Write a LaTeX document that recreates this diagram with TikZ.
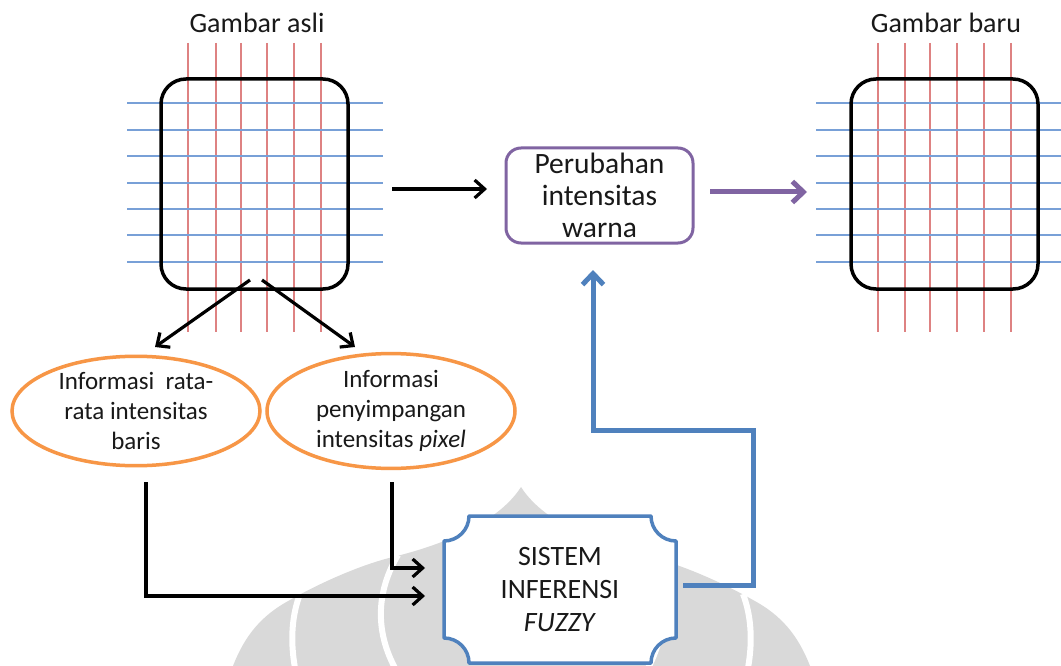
\documentclass[tikz,border=0pt]{standalone}
\usepackage{fontspec}
\setmainfont{Carlito}
\usetikzlibrary{arrows.meta,shapes.geometric}
\definecolor{gridred}{RGB}{222,130,130}
\definecolor{gridblue}{RGB}{120,160,215}
\definecolor{opurple}{RGB}{128,100,162}
\definecolor{oblue}{RGB}{79,129,189}
\definecolor{oorange}{RGB}{247,150,70}
\definecolor{wmgrey}{RGB}{217,217,217}
\definecolor{txt}{RGB}{25,25,25}
\tikzset{
  redline/.style={gridred, line width=1.3pt},
  blueline/.style={gridblue, line width=1.6pt},
  imgbox/.style={draw=black, line width=3.5pt, rounded corners=25pt, minimum width=187pt, minimum height=210pt, inner sep=0pt},
  title/.style={text=txt, font=\fontsize{28}{33}\selectfont},
  procbox/.style={draw=opurple, line width=3pt, rounded corners=15pt, fill=white, minimum width=187pt, minimum height=95pt, align=center, text=txt, font=\fontsize{29.5}{32}\selectfont, inner sep=0pt},
  infoell/.style={draw=oorange, line width=3.5pt, ellipse, fill=white, minimum width=248pt, minimum height=105pt, inner sep=0pt, align=center, text=txt, font=\fontsize{25}{30}\selectfont},
  sysnode/.style={minimum width=232pt, minimum height=147pt, inner sep=0pt, align=center, text=txt, font=\fontsize{28}{33}\selectfont},
  blackarr/.style={draw=black, line width=3.2pt, -{Straight Barb[length=10pt,width=18pt]}},
  purplearr/.style={draw=opurple, line width=5pt, -{Straight Barb[length=11pt,width=21pt]}},
  bluearr/.style={draw=oblue, line width=5pt, -{Straight Barb[length=11pt,width=21pt]}},
  wmband/.style={white, line width=6pt}
}
\begin{document}
\begin{tikzpicture}[x=1pt, y=-1pt]
\useasboundingbox (0,0) rectangle (1061,666);
\fill[white] (0,0) rectangle (1061,666);

% watermark
\fill[wmgrey] (233,666) .. controls (245,635) and (262,615) .. (290,600)
  .. controls (320,583) and (360,565) .. (393,557)
  .. controls (450,543) and (500,520) .. (521,487)
  .. controls (542,520) and (592,543) .. (650,557)
  .. controls (683,565) and (723,583) .. (753,600)
  .. controls (781,615) and (798,635) .. (810,666) -- cycle;
\draw[wmband] (300,594) .. controls (292,615) and (290,640) .. (295,668);
\draw[wmband] (398,555) .. controls (380,585) and (372,625) .. (395,668);
\draw[wmband] (743,594) .. controls (751,615) and (753,640) .. (748,668);
\draw[wmband] (645,555) .. controls (663,585) and (671,625) .. (648,668);

% left image grid
\foreach \x in {188,216,241,267,294,321} \draw[redline] (\x,43) -- (\x,332);
\foreach \y in {103,130,156,183,209,235,262} \draw[blueline] (127,\y) -- (383,\y);
\node[imgbox] (img1) at (254.5,184) {};
\node[title] (t1) at (257,23) {Gambar asli};

% right image grid
\foreach \x in {878,905,930,957,984,1011} \draw[redline] (\x,43) -- (\x,332);
\foreach \y in {103,130,156,183,209,235,262} \draw[blueline] (816,\y) -- (1061,\y);
\node[imgbox] (img2) at (944.5,184) {};
\node[title] (t2) at (946,23) {Gambar baru};

% process box
\node[procbox] (per) at (599.5,195.5) {Perubahan\\intensitas\\warna};

% ellipses
\node[infoell] (ell1) at (136,411) {Informasi\ \ rata-\\rata intensitas\\baris};
\node[infoell] (ell2) at (391,411) {Informasi\\penyimpangan\\intensitas \textit{pixel}};

% fuzzy system plaque
\filldraw[draw=oblue, fill=white, line width=3.5pt, line join=round]
  (469,516) -- (651,516)
  .. controls (651,529.8) and (662.2,541) .. (676,541)
  -- (676,638)
  .. controls (662.2,638) and (651,649.2) .. (651,663)
  -- (469,663)
  .. controls (469,649.2) and (457.8,638) .. (444,638)
  -- (444,541)
  .. controls (457.8,541) and (469,529.8) .. (469,516) -- cycle;
\node[sysnode] (sis) at (560,589.5) {SISTEM\\INFERENSI\\\textit{FUZZY}};

% connector end points
\coordinate (a1s) at (392,189);
\coordinate (a1e) at (487,189);
\coordinate (a2s) at (710,192);
\coordinate (a2e) at (807,192);
\coordinate (d1s) at (250,280);
\coordinate (d1e) at (155,347);
\coordinate (d2s) at (262,280);
\coordinate (d2e) at (355,347);
\coordinate (e1o) at (146,482);
\coordinate (e2o) at (392,482);
\coordinate (s1i) at (425,596);
\coordinate (s2i) at (425,568);
\coordinate (so) at (683,585);
\coordinate (bk1) at (753,585);
\coordinate (bk2) at (753,430);
\coordinate (bk3) at (593,430);
\coordinate (pin) at (593,270);

\draw[blackarr] (a1s) -- (a1e);
\draw[purplearr] (a2s) -- (a2e);
\draw[blackarr] (d1s) -- (d1e);
\draw[blackarr] (d2s) -- (d2e);
\draw[blackarr] (e1o) |- (s1i);
\draw[blackarr] (e2o) |- (s2i);
\draw[bluearr] (so) -- (bk1) -- (bk2) -- (bk3) -- (pin);
\end{tikzpicture}
\end{document}
